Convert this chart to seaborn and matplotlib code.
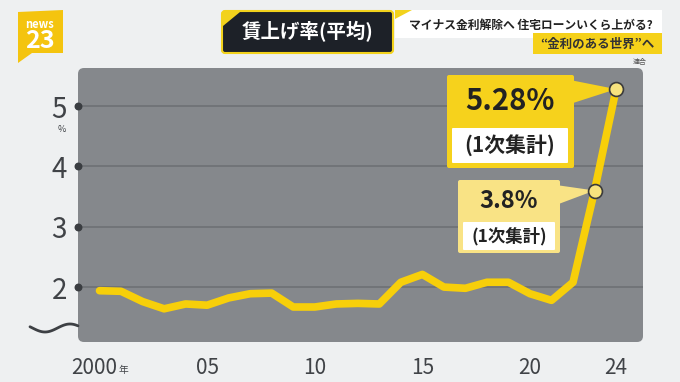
import numpy as np
import pandas as pd
import matplotlib
matplotlib.use("Agg")
import matplotlib.pyplot as plt
import matplotlib.transforms as mtransforms
import seaborn as sns
from matplotlib.patches import FancyBboxPatch, Polygon
from matplotlib.lines import Line2D

# 連合 賃上げ率(平均) 2000-2024
years = list(range(2000, 2025))
rates = [1.94, 1.93, 1.76, 1.64, 1.72, 1.70, 1.82, 1.89, 1.90, 1.67,
         1.67, 1.72, 1.73, 1.72, 2.08, 2.21, 2.00, 1.98, 2.08, 2.08,
         1.89, 1.78, 2.08, 3.60, 5.28]
tick_years = [2000, 2005, 2010, 2015, 2020, 2024]
tick_labels = ["2000", "05", "10", "15", "20", "24"]
y_ticks = [2, 3, 4, 5]
callout_years = [2024, 2023]
callout_labels = ["5.28%", "3.8%"]

sns.set_theme(style="white")
plt.rcParams["font.family"] = ["Noto Sans CJK JP", "DejaVu Sans"]

W, H = 680, 382
fig = plt.figure(figsize=(6.8, 3.82), dpi=100)
fig.patch.set_facecolor("#eef0f1")
inch = fig.dpi_scale_trans


def box(x0, y0, x1, y1, fc, r=0.03, ec="none", lw=0, z=1, target=None):
    # pixel coords (top-left origin) -> inches
    p = FancyBboxPatch((x0 / 100, (H - y1) / 100), (x1 - x0) / 100, (y1 - y0) / 100,
                       boxstyle=f"round,pad=0,rounding_size={r}", fc=fc, ec=ec, lw=lw,
                       transform=inch, zorder=z, clip_on=False)
    (target.add_patch(p) if target is not None else fig.add_artist(p))
    return p


def poly(pts, fc, z=1, target=None):
    p = Polygon([(x / 100, (H - y) / 100) for x, y in pts], closed=True, fc=fc, ec="none",
                transform=inch, zorder=z, clip_on=False)
    (target.add_patch(p) if target is not None else fig.add_artist(p))


def txt(x, y, s, target=None, **kw):
    t = target if target is not None else fig
    t.text(x / 100, (H - y) / 100, s, transform=inch, ha="center", va="center", **kw)


# グラフ背景パネル
box(78, 68, 643, 342, "#85888c", r=0.06, z=-1)

ax = fig.add_axes([78 / W, (H - 342) / H, 565 / W, 274 / H])
ax.patch.set_alpha(0)
ax.set_xlim(1999.0, 2025.25)
ax.set_ylim(1.09, 5.63)

df = pd.DataFrame({"year": years, "rate": rates})
sns.lineplot(data=df, x="year", y="rate", ax=ax, color="#f7cf0a", lw=5.5,
             solid_joinstyle="round", solid_capstyle="round", zorder=3)

for y in y_ticks:
    ax.axhline(y, color="#6d7074", lw=1.2, zorder=1)
ax.scatter([ax.get_xlim()[0]] * len(y_ticks), y_ticks, s=22, color="#3a3d41",
           clip_on=False, zorder=4)

ax.set_yticks(y_ticks)
ax.set_yticklabels([str(v) for v in y_ticks], fontsize=20, color="#404347")
ax.set_xticks(tick_years)
ax.set_xticklabels(tick_labels, fontsize=15, color="#404347")
ax.tick_params(axis="y", length=0, pad=8)
ax.tick_params(axis="x", length=0, pad=11)
ax.set_xlabel("")
ax.set_ylabel("")
sns.despine(ax=ax, left=True, bottom=True)

# "2000" を少し左へ(年の分)
first = ax.get_xticklabels()[0]
first.set_transform(first.get_transform() + mtransforms.ScaledTranslation(-0.05, 0, inch))

txt(62, 129, "%", fontsize=6.5, color="#404347")
txt(123, 370, "年", fontsize=7, color="#404347")

# 波線(省略記号)
sx = np.linspace(30, 78, 60)
sy = 328 + 4 * np.sin(2 * np.pi * (sx - 32.5) / 50)
fig.add_artist(Line2D(sx / 100, (H - sy) / 100, transform=inch, color="#3d4044", lw=2))

# 吹き出し
vals = [rates[years.index(y)] for y in callout_years]
tips = [ax.transData.transform((x, v)) / fig.dpi for x, v in zip(callout_years, vals)]
tips_px = [(tx * 100, H - ty * 100) for tx, ty in tips]

box(447, 75, 574, 168, "#f6d21c", r=0.02, z=5, target=ax)
box(452, 128, 568, 163, "white", r=0.01, z=6, target=ax)
poly([(570, 80), (570, 104), tips_px[0]], "#f6d21c", z=5, target=ax)
txt(510, 101, callout_labels[0], target=ax, fontsize=21, fontweight="bold", color="#222222", zorder=7)
txt(510, 145, "(1次集計)", target=ax, fontsize=15, fontweight="bold", color="#222222", zorder=7)

box(458, 180, 560, 253, "#f9e385", r=0.02, z=5, target=ax)
box(463, 222, 555, 250, "white", r=0.01, z=6, target=ax)
poly([(556, 185), (556, 205), tips_px[1]], "#f9e385", z=5, target=ax)
txt(509, 201, callout_labels[1], target=ax, fontsize=17, fontweight="bold", color="#222222", zorder=7)
txt(509, 236, "(1次集計)", target=ax, fontsize=12.5, fontweight="bold", color="#222222", zorder=7)

ax.scatter(callout_years, vals, s=100, fc="#f7e37e", ec="#3b3b3b", lw=1.2, zorder=8)

# ロゴ
poly([(18, 12), (63, 10), (63, 53), (32, 53), (18, 63)], "#f4c40f", z=2)
txt(40, 24, "news", fontsize=8, fontweight="bold", color="white", zorder=3)
txt(40, 41, "23", fontsize=18, fontweight="bold", color="white", zorder=3)

# タイトル
box(222, 11, 393, 53, "#1d2128", r=0.03, ec="#f2d21c", lw=1.5, z=2)
poly([(223, 12), (240, 12), (223, 26)], "#f2d21c", z=3)
txt(308, 32, "賃上げ率(平均)", fontsize=14, fontweight="bold", color="white", zorder=4)

box(395, 10, 662, 38, "white", r=0.0, z=2)
poly([(395, 10), (412, 10), (395, 19)], "#f2d21c", z=3)
txt(531, 25, "マイナス金利解除へ 住宅ローンいくら上がる?", fontsize=8.5, fontweight="bold",
    color="#222222", zorder=4)
box(533, 33, 662, 54, "#f5d11a", r=0.0, z=3)
txt(597, 44, "“金利のある世界”へ", fontsize=9, fontweight="bold", color="#333333", zorder=4)
txt(640, 62, "連合", fontsize=5, color="#555555")

fig.savefig("out.png", dpi=100, facecolor=fig.get_facecolor())
